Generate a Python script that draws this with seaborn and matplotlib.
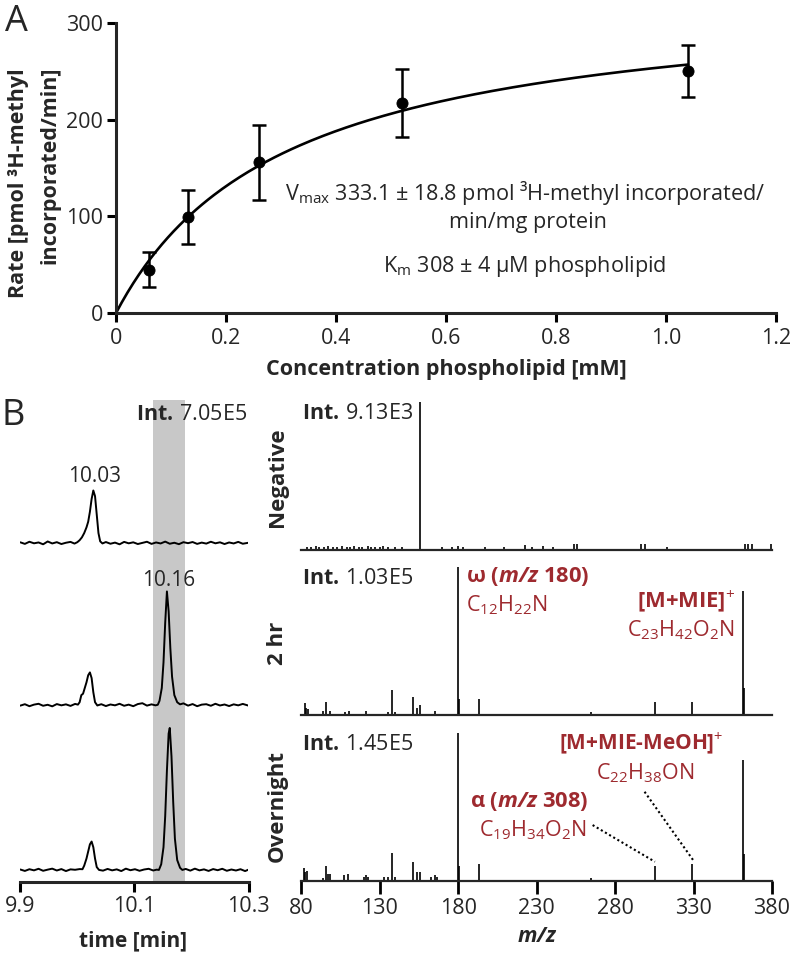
import numpy as np
import matplotlib
matplotlib.use("Agg")
import matplotlib.pyplot as plt
import seaborn as sns

# ---------------- panel A: enzyme kinetics ----------------
conc = [0.06, 0.13, 0.26, 0.52, 1.04]
rate = [45, 99, 156, 217, 250]
rate_sd = [18, 28, 39, 35, 27]
vmax = 333.1
km = 0.308  # mM

# ---------------- panel B: chromatograms (% of Int. 7.05E5) ----------------
neg_t = [9.900, 9.908, 9.916, 9.924, 9.932, 9.940, 9.948, 9.956, 9.964, 9.972, 9.980, 9.988, 9.995,
         10.000, 10.004, 10.008, 10.012, 10.016, 10.019, 10.022, 10.025, 10.028, 10.031, 10.034, 10.037, 10.040, 10.044,
         10.050, 10.058, 10.066, 10.074, 10.082, 10.090, 10.098, 10.106, 10.114, 10.122, 10.130, 10.138, 10.146,
         10.154, 10.162, 10.170, 10.178, 10.186, 10.194, 10.202, 10.210, 10.218, 10.226, 10.234, 10.242, 10.250,
         10.258, 10.266, 10.274, 10.282, 10.290, 10.300]
neg_i = [0.5, -0.6, 0.9, -0.2, 0.4, -0.9, 1.1, -0.3, 0.6, -0.7, 0.2, 0.8, -0.4,
         0.6, 2.0, 4.0, 7.0, 11.0, 15.0, 22.0, 31.0, 37.0, 33.0, 20.0, 7.0, 1.2, -0.3,
         0.7, -0.5, 0.3, -0.9, 0.8, -0.2, 0.5, -0.7, 0.1, 0.9, -0.6, 0.4, -0.3,
         1.0, -0.5, 0.2, -0.8, 0.6, -0.1, 0.7, -0.6, 0.3, -0.4, 0.9, -0.2, 0.5,
         -0.7, 0.4, -0.3, 0.8, -0.5, 0.2]

hr2_t = [9.900, 9.908, 9.916, 9.924, 9.932, 9.940, 9.948, 9.956, 9.964, 9.972, 9.980, 9.988, 9.996,
         10.001, 10.004, 10.007, 10.010, 10.013, 10.016, 10.019, 10.022, 10.025, 10.028, 10.031, 10.035,
         10.042, 10.050, 10.058, 10.066, 10.074, 10.082, 10.090, 10.098, 10.106, 10.114, 10.122, 10.130, 10.137,
         10.141, 10.144, 10.148, 10.151, 10.154, 10.157, 10.160, 10.163, 10.166, 10.170, 10.175, 10.180,
         10.186, 10.194, 10.202, 10.210, 10.218, 10.226, 10.234, 10.242, 10.250, 10.258, 10.266, 10.274,
         10.282, 10.290, 10.300]
hr2_i = [-0.4, 0.6, -0.8, 0.3, 0.9, -0.5, 0.2, -0.9, 0.7, -0.2, 0.5, -0.6, 0.8,
         0.3, 2.0, 7.0, 8.0, 12.0, 16.0, 21.0, 23.0, 19.0, 9.0, 2.0, -0.3,
         0.6, -0.7, 0.4, -0.2, 0.9, -0.5, 0.3, -0.8, 0.7, 1.3, -0.4, 0.5, -0.2,
         0.2, 3.0, 12.0, 30.0, 58.0, 80.0, 66.0, 40.0, 20.0, 7.0, 2.0, 0.5,
         1.2, -0.4, 0.7, -0.8, 0.3, 0.6, -0.5, 0.9, -0.3, 0.4, -0.7, 0.5,
         -0.2, 0.8, -0.4]

ovn_t = [9.900, 9.908, 9.916, 9.924, 9.932, 9.940, 9.948, 9.956, 9.964, 9.972, 9.980, 9.988, 9.996, 10.004,
         10.009, 10.012, 10.016, 10.019, 10.022, 10.025, 10.028, 10.031, 10.034, 10.038,
         10.045, 10.053, 10.061, 10.069, 10.077, 10.085, 10.093, 10.101, 10.109, 10.117, 10.125, 10.133, 10.139,
         10.143, 10.147, 10.151, 10.154, 10.157, 10.160, 10.162, 10.165, 10.168, 10.171, 10.175, 10.180, 10.184,
         10.190, 10.198, 10.206, 10.214, 10.222, 10.230, 10.238, 10.246, 10.254, 10.262, 10.270, 10.278,
         10.286, 10.294, 10.300]
ovn_i = [0.3, -0.7, 0.5, -0.3, 0.8, -0.6, 0.2, 0.9, -0.4, 0.6, -0.8, 0.4, 0.1, 0.6,
         0.5, 3.0, 8.0, 13.0, 18.0, 20.0, 16.0, 8.0, 2.0, 0.0,
         -0.5, 0.7, -0.3, 0.4, -0.8, 0.9, -0.2, 0.5, -0.6, 0.3, 0.8, -0.4, 0.2,
         0.0, 4.0, 16.0, 38.0, 70.0, 96.0, 100.0, 80.0, 48.0, 22.0, 7.0, 1.5, 0.0,
         0.7, -0.5, 0.9, -0.3, 0.4, -0.7, 0.6, -0.2, 0.8, -0.6, 0.3, -0.4,
         0.5, -0.8, 0.2]

band_lo, band_hi = 10.133, 10.189

# ---------------- panel B: mass spectra (% of base peak) ----------------
neg_mz = [83.8, 86.0, 89.3, 91.5, 94.8, 97.0, 100.3, 102.5, 105.8, 109.1, 111.4, 113.6, 116.9, 119.0,
          122.4, 124.6, 126.8, 130.1, 132.3, 135.6, 140.0, 144.5, 155.5, 169.8, 176.4, 179.7, 183.0,
          197.4, 209.5, 222.7, 227.2, 233.8, 240.4, 253.7, 255.8, 296.7, 298.9, 313.2, 362.9, 365.0,
          367.2, 379.5]
neg_int = [2, 2, 2.5, 2, 2, 2.5, 2, 2, 2.5, 2, 2, 2.5, 2, 2,
           2.5, 2, 2, 2, 2.5, 2, 2, 2, 100, 2, 2, 2.5, 2,
           2, 2, 3.5, 2, 2.5, 2, 4, 4, 4, 4, 2, 4, 4,
           4, 4]

hr2_mz = [82.2, 83.3, 84.4, 93.7, 95.9, 98.1, 108.0, 110.2, 121.3, 135.6, 137.8, 140.0, 151.5, 153.7,
          155.9, 165.4, 179.7, 180.8, 193.4, 264.7, 305.5, 329.3, 361.3, 362.4]
hr2_int = [8, 5, 4, 2.5, 9, 3, 2, 3, 3, 2, 17, 2, 12, 5,
           6.5, 3, 100, 11, 11, 2, 9, 9, 84, 18]

ovn_mz = [81.6, 82.7, 83.9, 93.7, 95.9, 97.0, 98.5, 107.4, 109.6, 119.7, 121.3, 122.4, 132.9, 135.1,
          137.8, 140.0, 151.5, 153.7, 155.5, 162.5, 165.4, 166.5, 179.7, 180.8, 193.4, 264.7, 305.5,
          329.3, 361.3, 362.4]
ovn_int = [8.5, 6, 7, 2, 10, 5, 5, 4, 5, 2.5, 4, 2.5, 2.5, 2.5,
           19, 2.5, 13, 6, 6, 3, 4, 3, 100, 10, 11.5, 2, 10,
           11.5, 82, 18]

spec_names = ["Negative", "2 hr", "Overnight"]
spec_int_labels = ["9.13E3", "1.03E5", "1.45E5"]
mz_ticks = [80, 130, 180, 230, 280, 330, 380]
time_ticks = [9.9, 10.1, 10.3]

RED = "#9e2a2f"

sns.set_theme(style="ticks")
plt.rcParams["font.family"] = ["Open Sans", "DejaVu Sans"]
plt.rcParams["mathtext.fontset"] = "custom"
plt.rcParams["mathtext.rm"] = "Open Sans"
plt.rcParams["mathtext.it"] = "Open Sans:italic"
plt.rcParams["mathtext.bf"] = "Open Sans:bold"
try:
    plt.rcParams["mathtext.bfit"] = "Open Sans:italic:bold"
except KeyError:
    pass

W, H = 793, 956
fig = plt.figure(figsize=(W / 100, H / 100), dpi=100)


def box(left, top, right, bottom):
    return fig.add_axes([left / W, 1 - bottom / H, (right - left) / W, (bottom - top) / H])


def ftext(px, py, s, **kw):
    return fig.text(px / W, 1 - py / H, s, **kw)


# ================= panel A =================
axA = box(116, 23, 776, 313)
xfit = np.linspace(0, conc[-1], 200)
yfit = vmax * xfit / (km + xfit)
sns.lineplot(x=xfit, y=yfit, ax=axA, color="black", lw=1.9)
axA.errorbar(conc, rate, yerr=rate_sd, fmt="none", ecolor="black",
             elinewidth=1.8, capsize=5, capthick=1.8)
sns.scatterplot(x=conc, y=rate, ax=axA, color="black", s=64, edgecolor="black",
                zorder=4, clip_on=False)
axA.set_xlim(0, 1.2)
axA.set_ylim(0, 300)
axA.set_xticks([0, 0.2, 0.4, 0.6, 0.8, 1.0, 1.2])
axA.set_xticklabels(["0", "0.2", "0.4", "0.6", "0.8", "1.0", "1.2"])
axA.set_yticks([0, 100, 200, 300])
sns.despine(ax=axA)
for s in ["left", "bottom"]:
    axA.spines[s].set_linewidth(2.2)
axA.tick_params(axis="both", width=2.2, length=6.5, labelsize=15.5, color="black")
axA.tick_params(axis="x", pad=4)
axA.tick_params(axis="y", pad=3)
axA.set_xlabel("")
axA.set_ylabel("")

ftext(16, 22, "A", fontsize=26, ha="center", va="center")
ftext(19, 183, "Rate [pmol ³H-methyl", fontsize=15.5, fontweight="bold",
      rotation=90, ha="center", va="center")
ftext(50, 165, "incorporated/min]", fontsize=15.5, fontweight="bold",
      rotation=90, ha="center", va="center")
ftext(446, 370, "Concentration phospholipid [mM]", fontsize=15.5, fontweight="bold",
      ha="center", va="center")
axA.text(0.307, 124, r"V$_{\mathrm{max}}$ 333.1 ± 18.8 pmol ³H-methyl incorporated/",
         fontsize=15.6, ha="left", va="center")
axA.text(0.749, 94, "min/mg protein", fontsize=15.6, ha="center", va="center")
axA.text(0.485, 47.6, r"K$_{\mathrm{m}}$ 308 ± 4 µM phospholipid",
         fontsize=15.6, ha="left", va="center")

# ================= panel B: chromatograms =================
axC = box(20.3, 399.6, 248.5, 882)
axC.axvspan(band_lo, band_hi, color="#c8c8c8", lw=0, zorder=0)
trace_offsets = [238.7, 124.6, 8.5]
for (tt, ii), off in zip([(neg_t, neg_i), (hr2_t, hr2_i), (ovn_t, ovn_i)], trace_offsets):
    sns.lineplot(x=tt, y=np.asarray(ii) + off, ax=axC, color="black", lw=1.4,
                 estimator=None, sort=False)
axC.set_xlim(9.9, 10.3)
axC.set_ylim(0, 339.7)
axC.set_xticks(time_ticks)
axC.set_xticklabels(["9.9", "10.1", "10.3"])
axC.set_yticks([])
sns.despine(ax=axC, left=True)
axC.spines["bottom"].set_linewidth(2.2)
axC.tick_params(axis="x", width=2.2, length=7, labelsize=15.5, pad=3, color="black")
axC.set_xlabel("")
axC.set_ylabel("")

ftext(13, 416, "B", fontsize=26, ha="center", va="center")
ftext(246.7, 414.7, r"$\mathbf{Int.}\,$7.05E5", fontsize=15.5, ha="right", va="center")
ftext(95, 477, "10.03", fontsize=15, ha="center", va="center")
ftext(168.3, 580.8, "10.16", fontsize=15, ha="center", va="center")
ftext(133, 941, "time [min]", fontsize=15, fontweight="bold", ha="center", va="center")

# ================= panel B: spectra =================
spec_rows = [(402, 550), (567, 715), (733, 881)]
spec_data = [(neg_mz, neg_int), (hr2_mz, hr2_int), (ovn_mz, ovn_int)]
label_y = [477, 643, 806]
spec_axes = []
for k, ((top, bottom), (mz, inten)) in enumerate(zip(spec_rows, spec_data)):
    ax = box(301.2, top, 772, bottom)
    ax.vlines(mz, 0, inten, color="black", lw=1.2)
    ax.set_xlim(80, 380)
    ax.set_ylim(0, 100)
    ax.set_yticks([])
    sns.despine(ax=ax, left=True)
    ax.spines["bottom"].set_linewidth(1.6)
    ax.set_xticks(mz_ticks)
    if k < 2:
        ax.tick_params(axis="x", length=0, labelbottom=False)
    else:
        ax.tick_params(axis="x", width=2.0, length=9, labelsize=15.5, pad=3, color="black")
    ax.text(80.5, 92.5, r"$\mathbf{Int.}\,$" + spec_int_labels[k], fontsize=15.5,
            ha="left", va="center")
    ftext(277.7, label_y[k], spec_names[k], fontsize=16, fontweight="bold",
          rotation=90, ha="center", va="center")
    spec_axes.append(ax)

ftext(537, 936, r"$\mathbfit{m/z}$", fontsize=15.5, ha="center", va="center")

ax2 = spec_axes[1]
ax2.text(185.3, 93.5, r"ω ($\mathbfit{m/z}$ 180)", color=RED, fontsize=15.8,
         fontweight="bold", ha="left", va="center")
ax2.text(185.3, 74.3, r"C$_{12}$H$_{22}$N", color=RED, fontsize=15.5, ha="left", va="center")
ax2.text(356.2, 76.6, r"[M+MIE]$^{+}$", color=RED, fontsize=15.8, fontweight="bold",
         ha="right", va="center")
ax2.text(356.2, 57.4, r"C$_{23}$H$_{42}$O$_{2}$N", color=RED, fontsize=15.5,
         ha="right", va="center")

ax3 = spec_axes[2]
ax3.text(296.4, 93, r"[M+MIE-MeOH]$^{+}$", color=RED, fontsize=15, fontweight="bold",
         ha="center", va="center")
ax3.text(299, 72.7, r"C$_{22}$H$_{38}$ON", color=RED, fontsize=15.5, ha="center", va="center")
ax3.text(187.4, 53.6, r"α ($\mathbfit{m/z}$ 308)", color=RED, fontsize=15.8,
         fontweight="bold", ha="left", va="center")
ax3.text(193, 34.5, r"C$_{19}$H$_{34}$O$_{2}$N", color=RED, fontsize=15.5, ha="left", va="center")
ax3.plot([265.7, 305.4], [37.8, 13], color="black", lw=1.5, ls=(0, (1, 1.3)), clip_on=False)
ax3.plot([298.8, 329.7], [60.3, 14.2], color="black", lw=1.5, ls=(0, (1, 1.3)), clip_on=False)

fig.savefig("out.png", dpi=100)
